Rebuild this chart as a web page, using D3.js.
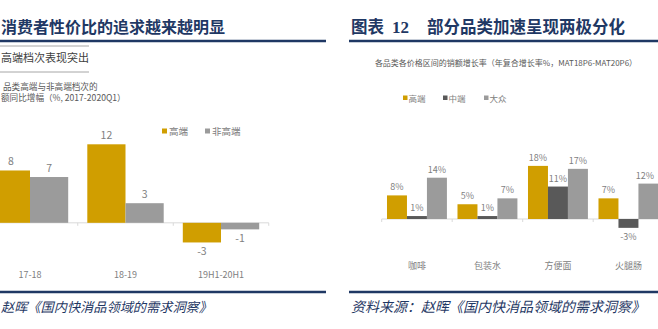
<!DOCTYPE html>
<html><head><meta charset="utf-8">
<script src="https://cdn.jsdelivr.net/npm/d3@7"></script>
<style>body{margin:0;background:#fff;}svg{display:block;}</style>
</head><body>
<svg id="c" width="658" height="329"></svg>
<script>
// Left chart data
const leftCategories = ["17-18", "18-19", "19H1-20H1"];
const leftSeries = ["高端", "非高端"];
const leftHigh = [8, 12, -3];
const leftNonHigh = [7, 3, -1];
// Right chart data
const rightCategories = ["咖啡", "包装水", "方便面", "火腿肠"];
const rightSeries = ["高端", "中端", "大众"];
const rightHigh = [8, 5, 18, 7];
const rightMid = [1, 1, 11, -3];
const rightMass = [14, 7, 17, 12];

const svg = d3.select("#c");
const font = "'Noto Sans CJK SC','Noto Sans',sans-serif";
const navy = "#1f3864";
const gold = "#d09e00";
const lgray = "#9b9b9b";
const dgray = "#595959";
const txtGray = "#808080";

// ---------- Headers & footers ----------
function header(x1, x2) {
  svg.append("line").attr("x1", x1).attr("x2", x2).attr("y1", 41).attr("y2", 41)
    .attr("stroke", navy).attr("stroke-width", 2.5);
  svg.append("line").attr("x1", x1).attr("x2", x2).attr("y1", 292).attr("y2", 292)
    .attr("stroke", navy).attr("stroke-width", 2.5);
}
header(0, 326);
header(349, 658);

svg.append("text").attr("x", 1).attr("y", 33)
  .attr("font-family", font).attr("font-weight", 700).attr("font-size", 16)
  .attr("fill", navy).text("消费者性价比的追求越来越明显");

svg.append("text").attr("x", 351).attr("y", 33)
  .attr("font-family", font).attr("font-weight", 700).attr("font-size", 16.5)
  .attr("fill", navy).text("图表");
svg.append("text").attr("x", 392).attr("y", 33)
  .attr("font-family", "'Liberation Serif',serif").attr("font-weight", 700).attr("font-size", 17)
  .attr("fill", navy).text("12");
svg.append("text").attr("x", 427).attr("y", 33)
  .attr("font-family", font).attr("font-weight", 700).attr("font-size", 16.5)
  .attr("fill", navy).text("部分品类加速呈现两极分化");

svg.append("text").attr("x", 1).attr("y", 312)
  .attr("font-family", font).attr("font-style", "italic").attr("font-size", 13.2)
  .attr("fill", navy).text("赵晖《国内快消品领域的需求洞察》");
svg.append("text").attr("x", 351).attr("y", 312)
  .attr("font-family", font).attr("font-style", "italic").attr("font-size", 14)
  .attr("fill", navy).text("资料来源：赵晖《国内快消品领域的需求洞察》");

// ---------- Left subtitle ----------
svg.append("line").attr("x1", 0).attr("x2", 89).attr("y1", 46).attr("y2", 46).attr("stroke", "#a6a6a6").attr("stroke-width", 1);
svg.append("line").attr("x1", 0).attr("x2", 89).attr("y1", 72).attr("y2", 72).attr("stroke", "#a6a6a6").attr("stroke-width", 1);
svg.append("text").attr("x", 1).attr("y", 62)
  .attr("font-family", font).attr("font-size", 11).attr("fill", "#404040").text("高端档次表现突出");
svg.append("text").attr("x", 3).attr("y", 90)
  .attr("font-family", font).attr("font-size", 8.6).attr("fill", "#595959").text("品类高端与非高端档次的");
svg.append("text").attr("x", 1).attr("y", 100.5)
  .attr("font-family", font).attr("font-size", 8.6).attr("fill", "#595959").text("额同比增幅（%, 2017-2020Q1）");

// ---------- Left chart ----------
const lx = d3.scaleBand().domain(leftCategories).range([-17.75, 268.75]).paddingInner(0.2).paddingOuter(0.1);
const lsub = d3.scaleBand().domain(leftSeries).range([0, lx.bandwidth()]);
const ly = d3.scaleLinear().domain([-4, 12]).range([249, 144.3]);
const leftData = leftCategories.map((c, i) => ({c, vals: [leftHigh[i], leftNonHigh[i]]}));
const lColors = [gold, lgray];

svg.append("line").attr("x1", lx.range()[0]).attr("x2", lx.range()[1])
  .attr("y1", ly(0)).attr("y2", ly(0)).attr("stroke", "#d9d9d9").attr("stroke-width", 1);
const lstep = lx.step();
d3.range(leftCategories.length + 1).forEach(i => {
  const xx = lx.range()[0] + i * lstep;
  svg.append("line").attr("x1", xx).attr("x2", xx).attr("y1", ly(0)).attr("y2", ly(0) + 3)
    .attr("stroke", "#d9d9d9");
});

leftData.forEach(d => {
  d.vals.forEach((v, j) => {
    const x = lx(d.c) + lsub(leftSeries[j]);
    svg.append("rect").attr("x", x).attr("width", lsub.bandwidth())
      .attr("y", Math.min(ly(v), ly(0))).attr("height", Math.abs(ly(v) - ly(0)))
      .attr("fill", lColors[j]);
    svg.append("text").attr("x", x + lsub.bandwidth() / 2)
      .attr("y", v >= 0 ? ly(v) - 5 : ly(v) + 13)
      .attr("text-anchor", "middle").attr("font-family", font).attr("font-size", 10.5)
      .attr("fill", "#7f7f7f").text(String(v));
  });
});
svg.append("g").selectAll("text").data(leftCategories).join("text")
  .attr("x", d => lx(d) + lx.bandwidth() / 2).attr("y", 278)
  .attr("text-anchor", "middle").attr("font-family", font).attr("font-size", 9)
  .attr("fill", txtGray).text(d => d);

// left legend
const lLegX = [162, 205];
leftSeries.forEach((s, j) => {
  svg.append("rect").attr("x", lLegX[j]).attr("y", 128.5).attr("width", 5).attr("height", 5).attr("fill", lColors[j]);
  svg.append("text").attr("x", lLegX[j] + 7).attr("y", 135).attr("font-family", font).attr("font-size", 9.5)
    .attr("fill", txtGray).text(s);
});

// ---------- Right chart ----------
svg.append("text").attr("x", 506).attr("y", 66).attr("text-anchor", "middle")
  .attr("font-family", font).attr("font-size", 8).attr("fill", "#595959")
  .text("各品类各价格区间的销额增长率（年复合增长率%，MAT18P6-MAT20P6）");

const rx = d3.scaleBand().domain(rightCategories).range([381.7, 663.7]).paddingInner(0.15).paddingOuter(0.075);
const rsub = d3.scaleBand().domain(rightSeries).range([0, rx.bandwidth()]);
const ry = d3.scaleLinear().domain([-5, 20]).range([233.75, 160]);
const rColors = [gold, dgray, lgray];
const rightData = rightCategories.map((c, i) => ({c, vals: [rightHigh[i], rightMid[i], rightMass[i]]}));

svg.append("line").attr("x1", rx.range()[0]).attr("x2", 658)
  .attr("y1", ry(0)).attr("y2", ry(0)).attr("stroke", "#d9d9d9").attr("stroke-width", 1);
d3.range(rightCategories.length + 1).forEach(i => {
  const xx = rx.range()[0] + i * rx.step();
  svg.append("line").attr("x1", xx).attr("x2", xx).attr("y1", ry(0)).attr("y2", ry(0) + 3)
    .attr("stroke", "#d9d9d9");
});

rightData.forEach(d => {
  d.vals.forEach((v, j) => {
    const x = rx(d.c) + rsub(rightSeries[j]);
    svg.append("rect").attr("x", x).attr("width", rsub.bandwidth())
      .attr("y", Math.min(ry(v), ry(0))).attr("height", Math.abs(ry(v) - ry(0)))
      .attr("fill", rColors[j]);
    svg.append("text").attr("x", Math.min(x + rsub.bandwidth() / 2, 645))
      .attr("y", v >= 0 ? ry(v) - 5 : ry(v) + 12)
      .attr("text-anchor", "middle").attr("font-family", font).attr("font-size", 9)
      .attr("fill", "#7f7f7f").text(v + "%");
  });
});
svg.append("g").selectAll("text").data(rightCategories).join("text")
  .attr("x", d => rx(d) + rx.bandwidth() / 2).attr("y", 269)
  .attr("text-anchor", "middle").attr("font-family", font).attr("font-size", 9)
  .attr("fill", txtGray).text(d => d);

const rLegX = [403, 443, 484];
rightSeries.forEach((s, j) => {
  svg.append("rect").attr("x", rLegX[j]).attr("y", 95.5).attr("width", 4.5).attr("height", 4.5).attr("fill", rColors[j]);
  svg.append("text").attr("x", rLegX[j] + 5.5).attr("y", 101.5).attr("font-family", font).attr("font-size", 8.5)
    .attr("fill", txtGray).text(s);
});
</script>
</body></html>
